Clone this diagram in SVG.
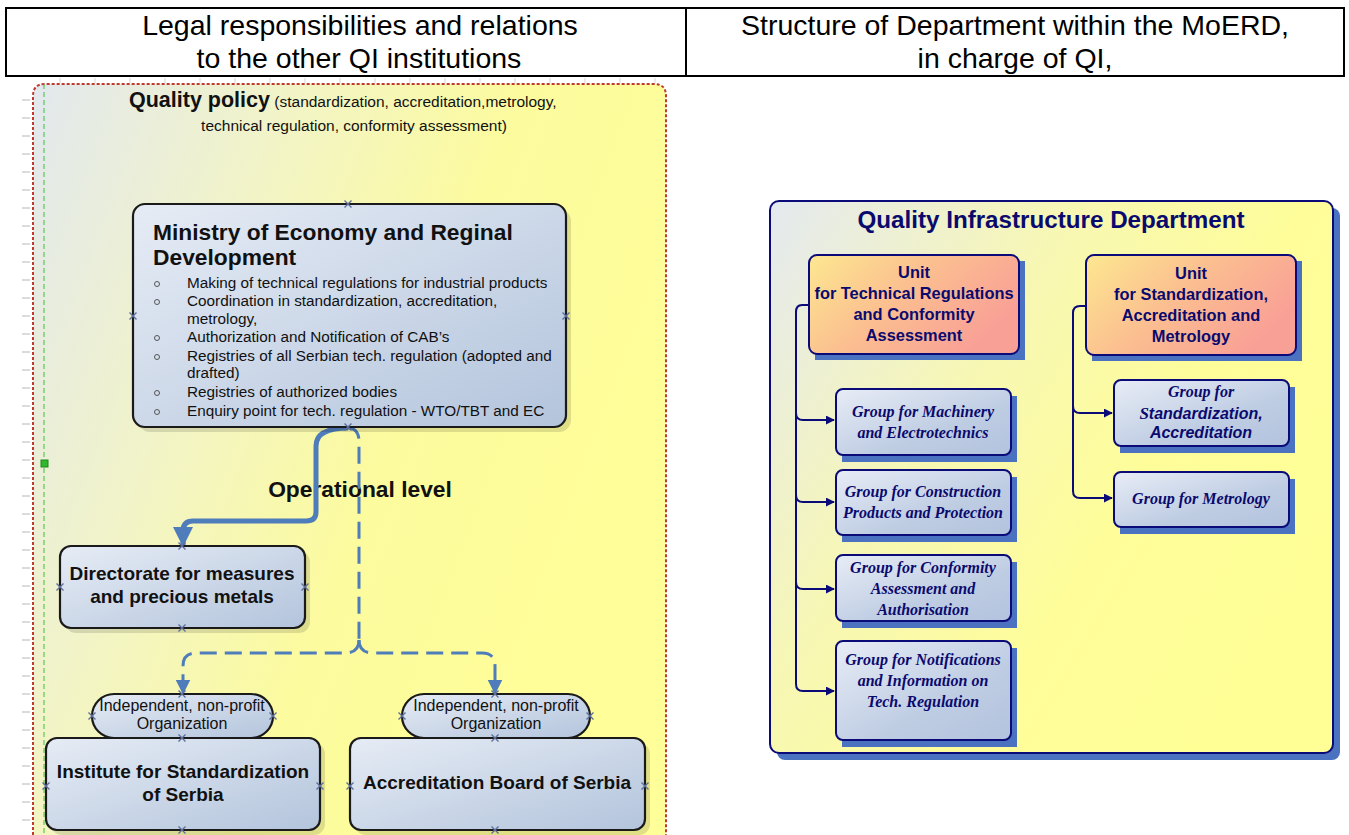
<svg xmlns="http://www.w3.org/2000/svg" xmlns:xlink="http://www.w3.org/1999/xlink" width="1349" height="835" viewBox="0 0 1349 835">
<style>
.hdr{font-family:"Liberation Sans",Arial,sans-serif;font-size:28.5px;fill:#000;text-anchor:middle}
.lbl{font-family:"Liberation Sans",Arial,sans-serif;fill:#111}
.b{font-weight:bold}
.mid{text-anchor:middle}
.blue{fill:url(#gBlue);stroke:#1a1a1a;stroke-width:2.2}
.pill{fill:url(#gBlue);stroke:#1a1a1a;stroke-width:2.2}
.sh{fill:#000;opacity:0.12}
.unit{fill:url(#gUnit);stroke:#0a0a78;stroke-width:2}
.grp{fill:url(#gGrp);stroke:#0a0a78;stroke-width:2}
.bsh{fill:#4a72c0}
.ut{font-family:"Liberation Sans",Arial,sans-serif;font-weight:bold;font-size:16.4px;fill:#0a0a6e;text-anchor:middle}
.gt{font-family:"Liberation Serif","Times New Roman",serif;font-weight:bold;font-style:italic;font-size:16px;fill:#0a0a6e;text-anchor:middle}
.gs{font-family:"Liberation Sans",Arial,sans-serif;font-weight:bold;font-style:italic;font-size:16px;fill:#0a0a6e}
.nav{fill:none;stroke:#0a0a78;stroke-width:2}
.dash{fill:none;stroke:#4f7cba;stroke-width:3;stroke-dasharray:17 8}
.solid{fill:none;stroke:#4f7cba;stroke-width:5}
.tick{stroke:#b8b8b8;stroke-width:1}
</style>
<defs>
<linearGradient id="gLeft" x1="0" y1="0" x2="1" y2="0.45">
<stop offset="0" stop-color="#e2e8ee"/>
<stop offset="0.35" stop-color="#f2f4c6"/>
<stop offset="0.65" stop-color="#fcfb9e"/>
<stop offset="1" stop-color="#fffe98"/>
</linearGradient>
<linearGradient id="gRight" x1="0" y1="0" x2="1" y2="0.6">
<stop offset="0" stop-color="#e4e9f0"/>
<stop offset="0.4" stop-color="#f7f7b4"/>
<stop offset="0.7" stop-color="#fefd9a"/>
<stop offset="1" stop-color="#ffff96"/>
</linearGradient>
<linearGradient id="gBlue" x1="0" y1="0" x2="1" y2="1">
<stop offset="0" stop-color="#e6ecf5"/>
<stop offset="1" stop-color="#b3c4dc"/>
</linearGradient>
<linearGradient id="gGrp" x1="0" y1="0" x2="1" y2="1">
<stop offset="0" stop-color="#e8edf6"/>
<stop offset="0.6" stop-color="#bfcde3"/>
<stop offset="1" stop-color="#b3c3de"/>
</linearGradient>
<linearGradient id="gUnit" x1="0" y1="0" x2="1" y2="0.5">
<stop offset="0" stop-color="#fde890"/>
<stop offset="0.5" stop-color="#fbbf90"/>
<stop offset="1" stop-color="#f9a096"/>
</linearGradient>
<path id="xm" d="M-3.5,-3.5L3.5,3.5M-3.5,3.5L3.5,-3.5" stroke="#5f6f9c" stroke-width="1.4" fill="none"/>
<marker id="aBlue" viewBox="0 0 10 10" refX="9" refY="5" markerWidth="4" markerHeight="4" orient="auto" markerUnits="strokeWidth">
<path d="M0,0L10,5L0,10z" fill="#4f7cba"/>
</marker>
<marker id="aBlueD" viewBox="0 0 10 10" refX="9" refY="5" markerWidth="5" markerHeight="5" orient="auto" markerUnits="strokeWidth">
<path d="M0,0L10,5L0,10z" fill="#4f7cba"/>
</marker>
<marker id="aNav" viewBox="0 0 10 10" refX="9" refY="5" markerWidth="4.5" markerHeight="4.5" orient="auto" markerUnits="strokeWidth">
<path d="M0,0L10,5L0,10z" fill="#0a0a78"/>
</marker>
</defs>
<rect x="0" y="0" width="1349" height="835" fill="#fff"/>

<!-- header table -->
<g id="header">
<rect x="6" y="8" width="1338" height="68" fill="none" stroke="#000" stroke-width="2"/>
<line x1="686" y1="8" x2="686" y2="76" stroke="#000" stroke-width="2"/>
<text class="hdr" x="360" y="35">Legal responsibilities and relations</text>
<text class="hdr" x="359" y="68">to the other QI institutions</text>
<text class="hdr" x="1015" y="35">Structure of Department within the MoERD,</text>
<text class="hdr" x="1015" y="68">in charge of QI,</text>
</g>

<!-- left panel -->
<g id="left-panel">
<g id="ruler">
<path class="tick" d="M22,100h8M22,118h8M22,136h8M22,154h8M22,172h8M22,190h8M22,208h8M22,226h8M22,244h8M22,262h8M22,280h8M22,298h8M22,316h8M22,334h8M22,352h8M22,370h8M22,388h8M22,406h8M22,424h8M22,442h8M22,460h8M22,478h8M22,496h8M22,514h8M22,532h8M22,550h8M22,568h8M22,586h8M22,604h8M22,622h8M22,640h8M22,658h8M22,676h8M22,694h8M22,712h8M22,730h8M22,748h8M22,766h8M22,784h8M22,802h8M22,820h8"/>
<path class="tick" opacity="0.6" d="M60,78v5M95,78v5M130,78v5M165,78v5M200,78v5M235,78v5M270,78v5M305,78v5M340,78v5M375,78v5M410,78v5M445,78v5M480,78v5M515,78v5M550,78v5M585,78v5M620,78v5M655,78v5"/>
</g>
<path d="M33,835 V96 Q33,84 45,84 H654 Q666,84 666,96 V835" fill="url(#gLeft)" stroke="#c0392b" stroke-width="2" stroke-dasharray="3 2"/>
<line x1="44" y1="84" x2="44" y2="835" stroke="#3cc03c" stroke-width="1" stroke-dasharray="5 3"/>
<rect x="41" y="460" width="7" height="7" fill="#2eb82e" stroke="#1a8a1a" stroke-width="1"/>
<text class="lbl" x="129" y="107" font-size="15.5" fill="#222"><tspan class="b" font-size="21.5" fill="#111">Quality policy</tspan> (standardization, accreditation,metrology,</text>
<text class="lbl mid" x="354" y="131" font-size="15.5" fill="#222">technical regulation, conformity assessment)</text>
<text class="lbl b mid" x="360" y="497" font-size="22.8">Operational level</text>
</g>

<!-- connectors left -->
<g id="connectors-left">
<path class="solid" d="M348,428 Q316,428 316,446 V512 Q316,521 306,521 H193 Q183,521 183,531 V545" marker-end="url(#aBlue)"/>
<path class="dash" d="M348,428 Q359,428 359,442 V642"/>
<path class="dash" d="M359,640 Q359,653 345,653 H196 Q183,653 183,666 V693" marker-end="url(#aBlueD)"/>
<path class="dash" d="M359,640 Q359,653 373,653 H482 Q495,653 495,666 V693" marker-end="url(#aBlueD)"/>
</g>

<g id="ministry">
<rect class="sh" x="138" y="209" width="433" height="223" rx="12"/>
<rect class="blue" x="133" y="204" width="433" height="223" rx="12"/>
<text class="lbl b" x="153" y="240" font-size="22.8">Ministry of Economy and Reginal</text>
<text class="lbl b" x="153" y="265" font-size="22.8">Development</text>
<g fill="none" stroke="#555" stroke-width="1">
<circle cx="157" cy="284" r="2.5"/><circle cx="157" cy="302" r="2.5"/><circle cx="157" cy="338" r="2.5"/><circle cx="157" cy="357" r="2.5"/><circle cx="157" cy="393" r="2.5"/><circle cx="157" cy="412" r="2.5"/>
</g>
<g class="lbl" font-size="15.3" fill="#222">
<text x="187" y="288">Making of technical regulations for industrial products</text>
<text x="187" y="306">Coordination in standardization, accreditation,</text>
<text x="187" y="324">metrology,</text>
<text x="187" y="342">Authorization and Notification of CAB’s</text>
<text x="187" y="361">Registries of all Serbian tech. regulation (adopted and</text>
<text x="187" y="378">drafted)</text>
<text x="187" y="397">Registries of authorized bodies</text>
<text x="187" y="416">Enquiry point for tech. regulation - WTO/TBT and  EC</text>
</g>
<use xlink:href="#xm" x="348" y="204"/><use xlink:href="#xm" x="133" y="316"/><use xlink:href="#xm" x="566" y="316"/><use xlink:href="#xm" x="348" y="427"/>
</g>

<g id="directorate">
<rect class="sh" x="65" y="551" width="245" height="82" rx="11"/>
<rect class="blue" x="60" y="546" width="245" height="82" rx="11"/>
<text class="lbl b mid" x="182" y="580" font-size="19">Directorate for measures</text>
<text class="lbl b mid" x="182" y="603" font-size="19">and precious metals</text>
<use xlink:href="#xm" x="182" y="546"/><use xlink:href="#xm" x="60" y="587"/><use xlink:href="#xm" x="305" y="587"/><use xlink:href="#xm" x="182" y="628"/>
</g>

<g id="pill-left">
<rect class="pill" x="92" y="694" width="181" height="44" rx="22"/>
<text class="lbl mid" x="182" y="711" font-size="16" fill="#333">Independent, non-profit</text>
<text class="lbl mid" x="182" y="729" font-size="16" fill="#333">Organization</text>
<use xlink:href="#xm" x="182" y="694"/><use xlink:href="#xm" x="92" y="716"/><use xlink:href="#xm" x="273" y="716"/>
</g>

<g id="pill-right">
<rect class="pill" x="402" y="694" width="188" height="44" rx="22"/>
<text class="lbl mid" x="496" y="711" font-size="16" fill="#333">Independent, non-profit</text>
<text class="lbl mid" x="496" y="729" font-size="16" fill="#333">Organization</text>
<use xlink:href="#xm" x="495" y="694"/><use xlink:href="#xm" x="402" y="716"/><use xlink:href="#xm" x="590" y="716"/>
</g>

<g id="institute">
<rect class="sh" x="51" y="743" width="274" height="92" rx="11"/>
<rect class="blue" x="46" y="738" width="274" height="92" rx="11"/>
<text class="lbl b mid" x="183" y="778" font-size="19">Institute for Standardization</text>
<text class="lbl b mid" x="183" y="801" font-size="19">of Serbia</text>
<use xlink:href="#xm" x="182" y="738"/><use xlink:href="#xm" x="46" y="786"/><use xlink:href="#xm" x="320" y="786"/><use xlink:href="#xm" x="182" y="830"/>
</g>

<g id="accreditation">
<rect class="sh" x="355" y="743" width="295" height="92" rx="11"/>
<rect class="blue" x="350" y="738" width="295" height="92" rx="11"/>
<text class="lbl b mid" x="497" y="789" font-size="19">Accreditation Board of Serbia</text>
<use xlink:href="#xm" x="495" y="738"/><use xlink:href="#xm" x="350" y="786"/><use xlink:href="#xm" x="645" y="786"/><use xlink:href="#xm" x="495" y="830"/>
</g>

<!-- right panel -->
<g id="qi-department">
<rect class="bsh" x="777" y="208" width="563" height="552" rx="8"/>
<rect x="770" y="201" width="563" height="552" rx="9" fill="url(#gRight)" stroke="#0a0a78" stroke-width="2"/>
<text x="1051" y="228" font-family="Liberation Sans,Arial,sans-serif" font-weight="bold" font-size="24.2" fill="#0a0a6e" text-anchor="middle">Quality Infrastructure Department</text>
</g>

<g id="connectors-right">
<path class="nav" d="M809,305 H802 Q796,305 796,312 V413 Q796,420 803,420 H834" marker-end="url(#aNav)"/>
<path class="nav" d="M796,410 V495 Q796,502 803,502 H834" marker-end="url(#aNav)"/>
<path class="nav" d="M796,495 V582 Q796,589 803,589 H834" marker-end="url(#aNav)"/>
<path class="nav" d="M796,582 V684 Q796,691 803,691 H834" marker-end="url(#aNav)"/>
<path class="nav" d="M1086,306 H1080 Q1073,306 1073,313 V406 Q1073,413 1080,413 H1112" marker-end="url(#aNav)"/>
<path class="nav" d="M1073,406 V491 Q1073,498 1080,498 H1112" marker-end="url(#aNav)"/>
</g>

<g id="unit-tr">
<rect class="bsh" x="815" y="261" width="210" height="99"/>
<rect class="unit" x="809" y="255" width="210" height="99" rx="8"/>
<text class="ut" x="914" y="278">Unit</text>
<text class="ut" x="914" y="299">for Technical Regulations</text>
<text class="ut" x="914" y="320">and Conformity</text>
<text class="ut" x="914" y="341">Assessment</text>
</g>

<g id="unit-sam">
<rect class="bsh" x="1092" y="261" width="210" height="100"/>
<rect class="unit" x="1086" y="255" width="210" height="100" rx="8"/>
<text class="ut" x="1191" y="279">Unit</text>
<text class="ut" x="1191" y="300">for Standardization,</text>
<text class="ut" x="1191" y="321">Accreditation and</text>
<text class="ut" x="1191" y="342">Metrology</text>
</g>

<g id="grp-machinery">
<rect class="bsh" x="842" y="396" width="175" height="66"/>
<rect class="grp" x="836" y="389" width="175" height="66" rx="7"/>
<text class="gt" x="923" y="417">Group for Machinery</text>
<text class="gt" x="923" y="438">and Electrotechnics</text>
</g>

<g id="grp-construction">
<rect class="bsh" x="842" y="477" width="175" height="65"/>
<rect class="grp" x="836" y="470" width="175" height="65" rx="7"/>
<text class="gt" x="923" y="497">Group for Construction</text>
<text class="gt" x="923" y="518">Products and Protection</text>
</g>

<g id="grp-conformity">
<rect class="bsh" x="842" y="562" width="175" height="66"/>
<rect class="grp" x="836" y="555" width="175" height="66" rx="7"/>
<text class="gt" x="923" y="573">Group for Conformity</text>
<text class="gt" x="923" y="594">Assessment and</text>
<text class="gt" x="923" y="615">Authorisation</text>
</g>

<g id="grp-notifications">
<rect class="bsh" x="842" y="648" width="175" height="99"/>
<rect class="grp" x="836" y="641" width="175" height="99" rx="7"/>
<text class="gt" x="923" y="665">Group for Notifications</text>
<text class="gt" x="923" y="686">and Information on</text>
<text class="gt" x="923" y="707">Tech. Regulation</text>
</g>

<g id="grp-standardization">
<rect class="bsh" x="1120" y="387" width="175" height="66"/>
<rect class="grp" x="1114" y="380" width="175" height="66" rx="7"/>
<text class="gt" x="1201" y="397">Group for</text>
<text class="gs" x="1201" y="419" text-anchor="middle"><tspan font-family="Liberation Serif,Times New Roman,serif" font-size="17">S</tspan>tandardization,</text>
<text class="gs" x="1201" y="438" text-anchor="middle">Accreditation</text>
</g>

<g id="grp-metrology">
<rect class="bsh" x="1120" y="479" width="175" height="55"/>
<rect class="grp" x="1114" y="472" width="175" height="55" rx="7"/>
<text class="gt" x="1201" y="504">Group for Metrology</text>
</g>
</svg>
